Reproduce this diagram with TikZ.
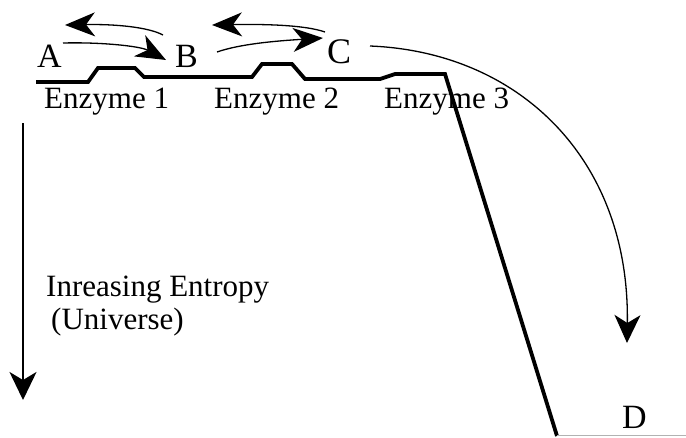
\documentclass[tikz,border=0pt]{standalone}
\usepackage{fontspec}
\setmainfont{Liberation Serif}
\usetikzlibrary{arrows.meta}
\begin{document}
\begin{tikzpicture}[x=1pt,y=-1pt,
  lbl/.style={anchor=base west,inner sep=0pt,font=\fontsize{31}{31}\selectfont},
  letter/.style={anchor=base west,inner sep=0pt,font=\fontsize{34}{34}\selectfont},
  profile/.style={line width=3.8pt,line join=miter},
  thinarrow/.style={line width=1.3pt,-{Stealth[length=30pt,width=24pt,inset=9pt]}},
  bigarrow/.style={line width=1.3pt,-{Stealth[length=28pt,width=26pt,inset=8pt]}},
  axisarrow/.style={line width=2pt,-{Stealth[length=28pt,width=27pt,inset=8pt]}}]
\useasboundingbox (0,0) rectangle (686,437);
% labels
\node[letter] (A) at (37,67) {A};
\node[letter] (B) at (175,67) {B};
\node[letter,font=\fontsize{36}{36}\selectfont] (C) at (327,63) {C};
\node[letter] (D) at (622,428) {D};
\node[lbl] (e1) at (44,108) {Enzyme 1};
\node[lbl] (e2) at (214,108) {Enzyme 2};
\node[lbl] (e3) at (384,108) {Enzyme 3};
\node[lbl] (ent) at (46,296) {Inreasing Entropy};
\node[lbl] (univ) at (51,329) {(Universe)};
% energy profile
\coordinate (p0) at (36,82);
\coordinate (pend) at (557,436);
\coordinate (gend) at (686,435);
\draw[profile] (p0) -- (88,82) -- (98,68) -- (135,68) -- (144,77) -- (252,77)
  -- (262,64) -- (292,64) -- (305,79) -- (380,79) -- (395,74) -- (445,74) -- (pend);
\draw[gray!60,line width=1pt] (557,435) -- (gend);
% A <-> B
\coordinate (ab1s) at (163,35); \coordinate (ab1e) at (65,25);
\coordinate (ab2s) at (63,43);  \coordinate (ab2e) at (166,60);
\draw[thinarrow] (ab1s) .. controls (148,27) and (115,24) .. (ab1e);
\draw[thinarrow] (ab2s) .. controls (100,42) and (140,46) .. (ab2e);
% B <-> C
\coordinate (bc1s) at (325,32); \coordinate (bc1e) at (212,25);
\coordinate (bc2s) at (217,52); \coordinate (bc2e) at (323,38);
\draw[thinarrow] (bc1s) .. controls (305,25) and (265,24) .. (bc1e);
\draw[thinarrow] (bc2s) .. controls (240,44) and (275,41) .. (bc2e);
% C -> D
\coordinate (cds) at (370,46); \coordinate (cde) at (627,343);
\draw[bigarrow] (cds) .. controls (520,52) and (630,160) .. (cde);
% entropy axis
\coordinate (ax0) at (23,123); \coordinate (ax1) at (23,400);
\draw[axisarrow] (ax0) -- (ax1);
\end{tikzpicture}
\end{document}
